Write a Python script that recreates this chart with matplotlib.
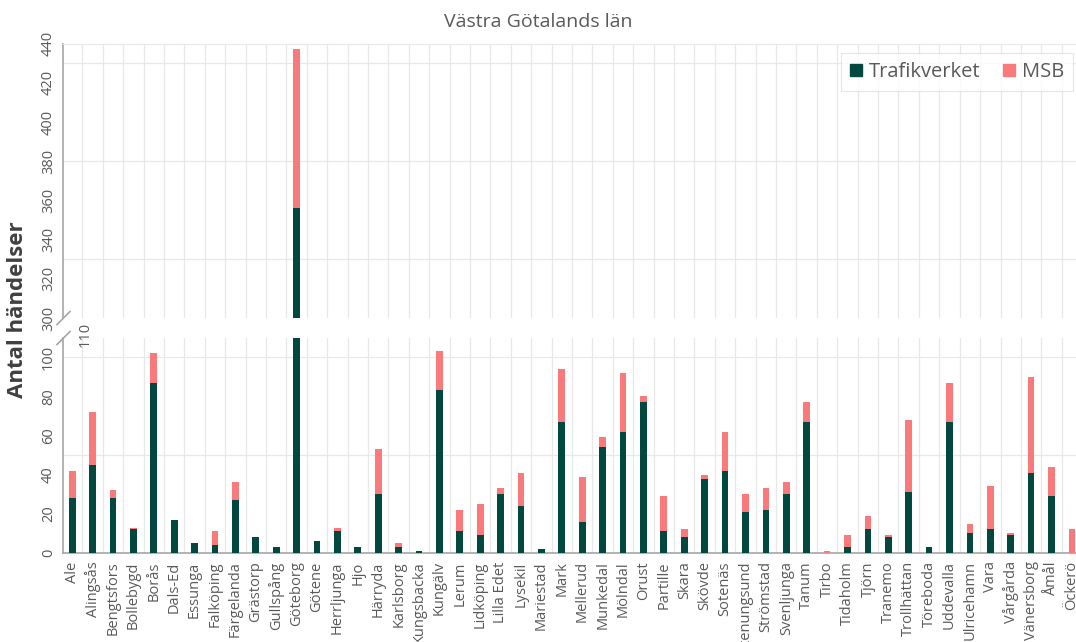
import numpy as np
import matplotlib.pyplot as plt
from matplotlib.patches import Patch
from matplotlib.lines import Line2D

plt.rcParams['font.family'] = ['Open Sans', 'DejaVu Sans']

kommuner = ["Ale", "Alingsås", "Bengtsfors", "Bollebygd", "Borås", "Dals-Ed", "Essunga",
            "Falköping", "Färgelanda", "Grästorp", "Gullspång", "Göteborg", "Götene",
            "Herrljunga", "Hjo", "Härryda", "Karlsborg", "Kungsbacka", "Kungälv", "Lerum",
            "Lidköping", "Lilla Edet", "Lysekil", "Mariestad", "Mark", "Mellerud", "Munkedal",
            "Mölndal", "Orust", "Partille", "Skara", "Skövde", "Sotenäs", "Stenungsund",
            "Strömstad", "Svenljunga", "Tanum", "Tirbo", "Tidaholm", "Tjörn", "Tranemo",
            "Trollhättan", "Töreboda", "Uddevalla", "Ulricehamn", "Vara", "Vårgårda",
            "Vänersborg", "Åmål", "Öckerö"]
trafikverket = [28, 45, 28, 12, 87, 17, 5, 4, 27, 8,
                3, 356, 6, 11, 3, 30, 3, 1, 83, 11,
                9, 30, 24, 2, 67, 16, 54, 62, 77, 11,
                8, 38, 42, 21, 22, 30, 67, 0, 3, 12,
                8, 31, 3, 67, 10, 12, 9, 41, 29, 0]
msb = [14, 27, 4, 1, 15, 0, 0, 7, 9, 0,
       0, 81, 0, 2, 0, 23, 2, 0, 20, 11,
       16, 3, 17, 0, 27, 23, 5, 30, 3, 18,
       4, 2, 20, 9, 11, 6, 10, 1, 6, 7,
       1, 37, 0, 20, 5, 22, 1, 49, 15, 12]

c_tv = "#03483F"
c_msb = "#FA7A7C"
grid_c = "#E8E8E8"
axis_c = "#A6A6A6"
text_c = "#595959"

W, H = 1076, 642
fig = plt.figure(figsize=(W / 100, H / 100), dpi=100)
left, right = 63 / W, 1.0
ax_top = fig.add_axes([left, 1 - 318 / H, right - left, (318 - 43.6) / H])
ax_bot = fig.add_axes([left, 1 - 553 / H, right - left, (553 - 337.5) / H])

x = np.arange(len(kommuner))
# (axes, ylim, horizontal grid values, y ticks)
panels = [(ax_top, (300, 440), [330, 380, 430], range(300, 441, 20)),
          (ax_bot, (0, 110), [50, 100], range(0, 101, 20))]
for ax, (lo, hi), hgrid, yt in panels:
    ax.bar(x, trafikverket, width=0.33, color=c_tv, zorder=3)
    ax.bar(x, msb, width=0.33, bottom=trafikverket, color=c_msb, zorder=3)
    ax.set_ylim(lo, hi)
    ax.set_xlim(-0.45, 49.2)
    for v in hgrid:
        ax.axhline(v, color=grid_c, lw=0.9, zorder=0)
    for b in np.arange(-0.5, 50, 1.0):
        ax.axvline(b, color=grid_c, lw=0.9, zorder=0)
    ax.set_yticks(list(yt))
    ax.tick_params(axis='y', length=0, pad=5, labelsize=10.5, labelcolor=text_c)
    for t in ax.get_yticklabels():
        t.set_rotation(90)
        t.set_va('center')
    for s in ['top', 'right', 'bottom']:
        ax.spines[s].set_visible(False)
    ax.spines['left'].set_color(axis_c)
    ax.spines['left'].set_linewidth(1.2)

ax_top.spines['top'].set_visible(True)
ax_top.spines['top'].set_color(grid_c)
ax_top.set_xticks([])
ax_bot.spines['bottom'].set_visible(True)
ax_bot.spines['bottom'].set_color(axis_c)
ax_bot.spines['bottom'].set_linewidth(1.2)
ax_bot.set_xticks(x)
ax_bot.set_xticklabels(kommuner, rotation=90, fontsize=10.5, color=text_c)
ax_bot.tick_params(axis='x', length=0, pad=6)

# break marks on the y axis
for yc in (318, 338):
    fig.add_artist(Line2D([57 / W, 70 / W], [1 - (yc + 6.5) / H, 1 - (yc - 6.5) / H],
                          color=axis_c, lw=1.2))
fig.text(85 / W, 1 - 334 / H, "110", rotation=90, ha='center', va='center',
         fontsize=10.5, color=text_c)

fig.text(0.5, 1 - 22 / H, "Västra Götalands län", ha='center', va='center',
         fontsize=14, color=text_c)
fig.text(18 / W, 1 - 310 / H, "Antal händelser", rotation=90, ha='center', va='center',
         fontsize=16, fontweight='bold', color="#404040")

handles = [Patch(color=c_tv, label="Trafikverket"), Patch(color=c_msb, label="MSB")]
leg = fig.legend(handles=handles, loc='upper right', bbox_to_anchor=(1073 / W, 1 - 53 / H),
                 ncol=2, fontsize=14.5, frameon=True, fancybox=False, handlelength=0.6,
                 handleheight=0.6, handletextpad=0.35, columnspacing=1.1,
                 borderpad=0.45, borderaxespad=0, labelcolor=text_c)
leg.get_frame().set_edgecolor("#E0E0E0")
leg.get_frame().set_linewidth(0.8)

fig.savefig("out.png", dpi=100)
